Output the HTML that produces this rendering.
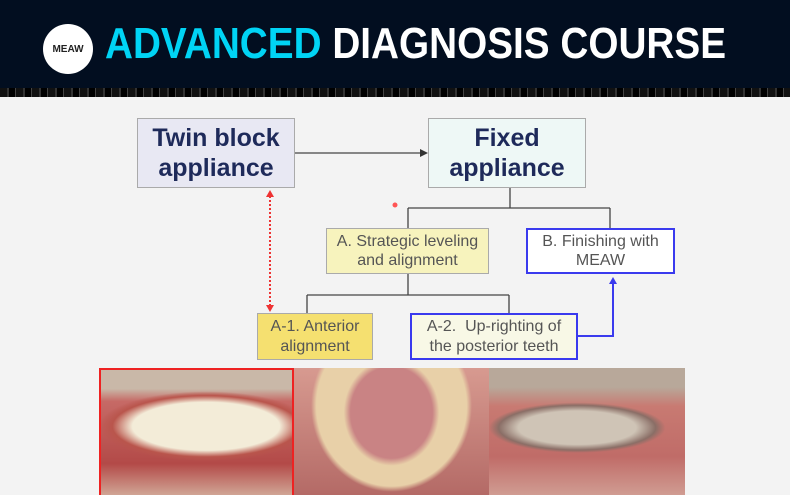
<!DOCTYPE html><html><head><style>
body{margin:0;width:790px;height:495px;overflow:hidden;background:#f3f3f3;font-family:"Liberation Sans",sans-serif;position:relative}
.a{position:absolute;box-sizing:border-box}
.bx{display:flex;align-items:center;justify-content:center;text-align:center;line-height:1.2}
</style></head><body>
<div class="a" style="left:0;top:0;width:790px;height:88px;background:#020e20"></div>
<div class="a" style="left:0;top:88px;width:790px;height:9px;background:repeating-linear-gradient(90deg,#111 0 7px,#333 7px 9px,#000 9px 15px,#444 15px 16px)"></div>
<div class="a" style="left:43px;top:24px;width:50px;height:50px;border-radius:50%;background:#fff;font-size:10px;font-weight:bold;color:#222;display:flex;align-items:center;justify-content:center">MEAW</div>
<div class="a" style="left:105px;top:19px;font-size:44px;font-weight:bold;color:#fff;white-space:nowrap;transform:scaleX(0.88);transform-origin:0 0"><span style="color:#00d4f5">ADVANCED</span> DIAGNOSIS COURSE</div>

<div class="a bx" style="left:137px;top:118px;width:158px;height:70px;background:#e8e8f3;border:1.5px solid #aaa;font-size:25px;font-weight:bold;color:#1e2a5a">Twin block<br>appliance</div>
<div class="a bx" style="left:428px;top:118px;width:158px;height:70px;background:#eef8f6;border:1.5px solid #aaa;font-size:25px;font-weight:bold;color:#1e2a5a">Fixed<br>appliance</div>
<div class="a bx" style="left:326px;top:228px;width:163px;height:46px;background:#f7f3bd;border:1.5px solid #aaa;font-size:16px;color:#555">A. Strategic leveling<br>and alignment</div>
<div class="a bx" style="left:526px;top:228px;width:149px;height:46px;background:#fff;border:2px solid #3a3aee;font-size:16px;color:#555">B. Finishing with<br>MEAW</div>
<div class="a bx" style="left:257px;top:313px;width:116px;height:47px;background:#f5e070;border:1.5px solid #aaa;font-size:16px;color:#555">A-1. Anterior<br>alignment</div>
<div class="a bx" style="left:410px;top:313px;width:168px;height:47px;background:#f8f8e6;border:2px solid #3a3aee;font-size:16px;color:#555">A-2.&nbsp; Up-righting of<br>the posterior teeth</div>

<svg class="a" style="left:0;top:0" width="790" height="495">
<g stroke="#444" stroke-width="1.3" fill="none">
<line x1="295" y1="153" x2="422" y2="153"/>
<line x1="510" y1="188" x2="510" y2="208"/><line x1="408" y1="208" x2="610" y2="208"/>
<line x1="408" y1="208" x2="408" y2="228"/><line x1="610" y1="208" x2="610" y2="228"/>
<line x1="408" y1="274" x2="408" y2="295"/><line x1="307" y1="295" x2="509" y2="295"/>
<line x1="307" y1="295" x2="307" y2="313"/><line x1="509" y1="295" x2="509" y2="313"/>
</g>
<polygon points="428,153 420,149 420,157" fill="#333"/>
<polyline points="578,336 613,336 613,282" fill="none" stroke="#3a3aee" stroke-width="2"/>
<polygon points="613,277 609,284 617,284" fill="#3a3aee"/>
<line x1="270" y1="196" x2="270" y2="306" stroke="#e33" stroke-width="2" stroke-dasharray="2,2"/>
<polygon points="270,190 266,197 274,197" fill="#e33"/><polygon points="270,312 266,305 274,305" fill="#e33"/>
<circle cx="395" cy="205" r="2.5" fill="#f55"/>
</svg>

<div class="a" style="left:99px;top:368px;width:195px;height:127px;border:2px solid #e22;border-bottom:none;background:radial-gradient(ellipse 70% 35% at 55% 45%,#f3ecd8 0 55%,#b9554c 70%,transparent 80%),linear-gradient(#c9b8a8 0 15%,#c66a66 25%,#b34a48 75%,#d0a595 100%)"></div>
<div class="a" style="left:294px;top:368px;width:195px;height:127px;background:radial-gradient(ellipse 35% 60% at 50% 35%,#c98384 0 60%,transparent 70%),radial-gradient(ellipse 55% 90% at 50% 30%,#e8d0a8 0 70%,transparent 75%),linear-gradient(#d79a90,#b46a66)"></div>
<div class="a" style="left:489px;top:368px;width:196px;height:127px;background:radial-gradient(ellipse 50% 22% at 45% 47%,#cfc4b6 0 60%,#8a6e66 80%,transparent 90%),linear-gradient(#b8a89a 0 15%,#c87a72 30%,#c06c68 70%,#d09c92 100%)"></div>
</body></html>
